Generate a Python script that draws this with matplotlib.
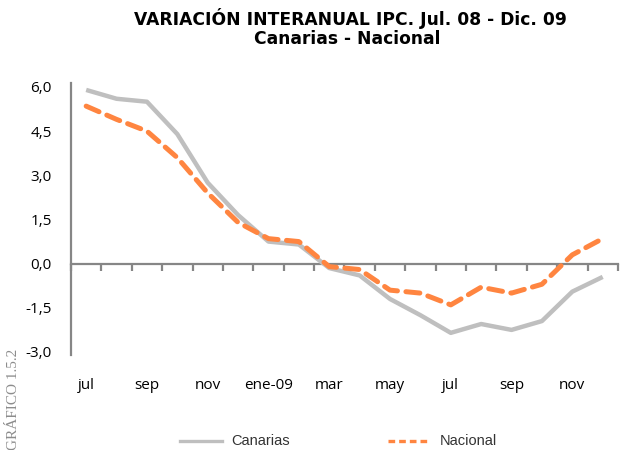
import matplotlib
matplotlib.use("Agg")
import matplotlib.pyplot as plt
import matplotlib.transforms as mtrans

# meses jul-08 .. dic-09
meses = ["jul", "ago", "sep", "oct", "nov", "dic", "ene-09", "feb", "mar",
         "abr", "may", "jun", "jul", "ago", "sep", "oct", "nov", "dic"]
canarias = [5.9, 5.6, 5.5, 4.4, 2.75, 1.65, 0.75, 0.65, -0.15, -0.4,
            -1.2, -1.75, -2.35, -2.05, -2.25, -1.95, -0.95, -0.45]
nacional = [5.35, 4.9, 4.5, 3.6, 2.4, 1.4, 0.85, 0.75, -0.1, -0.2,
            -0.9, -1.0, -1.4, -0.8, -1.0, -0.7, 0.3, 0.85]
yticks = [-3.0, -1.5, 0.0, 1.5, 3.0, 4.5, 6.0]

GRIS = "#BFBFBF"
NARANJA = "#FF8540"
EJE = "#868686"

fig = plt.figure(figsize=(6.21, 4.5), dpi=100)
ax = fig.add_axes([0.1143, 0.2178, 0.8807, 0.5889])

x = list(range(len(meses)))
ax.plot(x, canarias, color=GRIS, lw=3.2, solid_capstyle="butt", zorder=3)
ax.plot(x, nacional, color=NARANJA, lw=3.6, dashes=(2.8, 1.7),
        dash_capstyle="round", zorder=4)

ax.set_xlim(-0.5, len(meses) - 0.5)
ax.set_ylim(-3.0, 6.0)

for s in ["top", "right"]:
    ax.spines[s].set_visible(False)
ax.spines["left"].set_color(EJE)
ax.spines["left"].set_linewidth(1.6)
ax.spines["left"].set_bounds(-3.1, 6.15)
ax.spines["bottom"].set_position(("data", 0))
ax.spines["bottom"].set_color(EJE)
ax.spines["bottom"].set_linewidth(1.6)

ax.set_yticks(yticks)
ax.set_yticklabels([f"{v:.1f}".replace(".", ",") for v in yticks],
                   fontsize=11, family="Open Sans")
ax.tick_params(axis="y", length=0, pad=14)

ax.set_xticks([i - 0.5 for i in range(len(meses) + 1)])
ax.set_xticklabels([])
ax.tick_params(axis="x", direction="out", length=5, width=1.6, color=EJE)

trans = mtrans.blended_transform_factory(ax.transData, ax.transAxes)
for i in range(0, len(meses), 2):
    ax.text(i, -0.125, meses[i], transform=trans, ha="center", va="center",
            fontsize=11, family="Open Sans")

fig.text(0.565, 0.958, "VARIACIÓN INTERANUAL IPC. Jul. 08 - Dic. 09",
         ha="center", va="center", fontsize=12.3, fontweight="bold",
         family="DejaVu Sans")
fig.text(0.559, 0.913, "Canarias - Nacional", ha="center", va="center",
         fontsize=12.3, fontweight="bold", family="DejaVu Sans")

fig.text(0.022, 0.0, "GRÁFICO 1.5.2", rotation=90, ha="center", va="bottom",
         fontsize=11, color="#8c8c8c", family="Liberation Serif")

# leyenda
fig.add_artist(plt.Line2D([0.29, 0.357], [0.02, 0.02], color=GRIS, lw=2.4))
fig.text(0.372, 0.02, "Canarias", va="center", fontsize=10.5, color="#333333",
         family="Liberation Sans")
fig.add_artist(plt.Line2D([0.625, 0.692], [0.02, 0.02], color=NARANJA, lw=2.4,
                          dashes=(2, 1.2)))
fig.text(0.708, 0.02, "Nacional", va="center", fontsize=10.5, color="#333333",
         family="Liberation Sans")

fig.savefig("out.png", dpi=100)
